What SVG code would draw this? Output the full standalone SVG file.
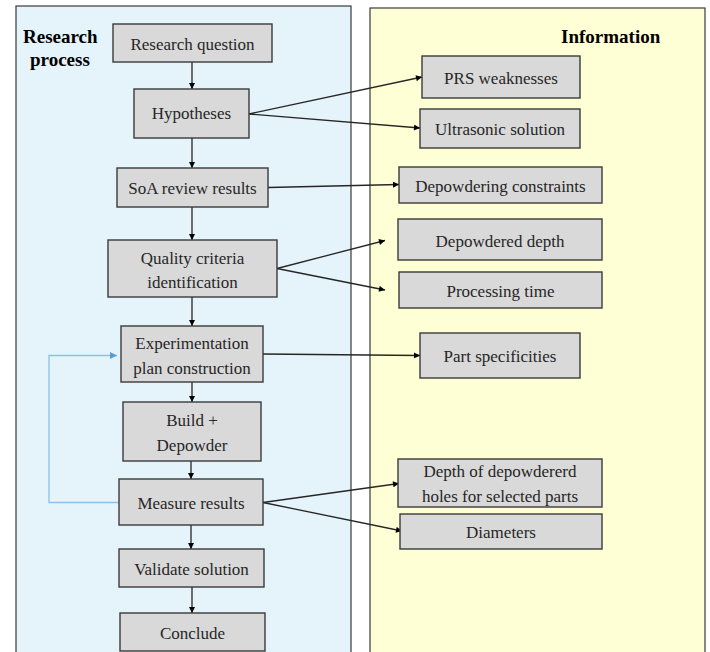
<svg xmlns="http://www.w3.org/2000/svg" width="710" height="652" viewBox="0 0 710 652" font-family="Liberation Serif, DejaVu Serif, serif">
<defs>
<style>
.panel{stroke:#3a3a3a;stroke-width:1.2}
.box{fill:#d9d9d9;stroke:#3a3a3a;stroke-width:1.4}
.t{font-size:17px;fill:#262626;text-anchor:middle}
.h{font-size:19px;font-weight:bold;fill:#000}
.c{fill:none;stroke:#262626;stroke-width:1.3}
.fb{fill:none;stroke:#8fbfea;stroke-width:1.3}
</style>
<marker id="ah" viewBox="0 0 10 10" refX="10" refY="5" markerWidth="7" markerHeight="6" markerUnits="userSpaceOnUse" orient="auto">
<path d="M0,0 L10,5 L0,10 z" fill="#000"/>
</marker>
<marker id="ahb" viewBox="0 0 10 10" refX="10" refY="5" markerWidth="8" markerHeight="7" markerUnits="userSpaceOnUse" orient="auto">
<path d="M0,0 L10,5 L0,10 z" fill="#5b9bd5"/>
</marker>
</defs>
<rect width="710" height="652" fill="#fff"/>
<g id="panel-research">
<rect class="panel" x="16" y="6" width="335" height="680" fill="#e5f4fa"/>
<text class="h" x="23" y="43" font-family="Liberation Serif, serif">Research</text>
<text class="h" x="30" y="66" font-family="Liberation Serif, serif">process</text>
</g>
<g id="panel-information">
<rect class="panel" x="370" y="8" width="335" height="680" fill="#ffffd5"/>
<text class="h" x="561" y="43" font-family="Liberation Serif, serif">Information</text>
</g>
<g id="connectors">
<path class="c" d="M192,62 V89" marker-end="url(#ah)"/>
<path class="c" d="M192,138 V168" marker-end="url(#ah)"/>
<path class="c" d="M192,207 V240" marker-end="url(#ah)"/>
<path class="c" d="M192,297 V326" marker-end="url(#ah)"/>
<path class="c" d="M192,382 V402" marker-end="url(#ah)"/>
<path class="c" d="M191,461 V479" marker-end="url(#ah)"/>
<path class="c" d="M191,525 V549" marker-end="url(#ah)"/>
<path class="c" d="M192,587 V613" marker-end="url(#ah)"/>
<path class="c" d="M249,114 L422,77" marker-end="url(#ah)"/>
<path class="c" d="M249,114 L420,128" marker-end="url(#ah)"/>
<path class="c" d="M268,187.5 L399,184.5" marker-end="url(#ah)"/>
<path class="c" d="M277,268.5 L385,240.5" marker-end="url(#ah)"/>
<path class="c" d="M277,268.5 L385,290" marker-end="url(#ah)"/>
<path class="c" d="M263,354 L420,355.5" marker-end="url(#ah)"/>
<path class="c" d="M263,502.5 L399,483.5" marker-end="url(#ah)"/>
<path class="c" d="M263,502.5 L402,531" marker-end="url(#ah)"/>
<path class="fb" d="M119,502.5 H49 V355.5 H117" marker-end="url(#ahb)"/>
</g>
<g id="n-research-question"><rect class="box" x="113" y="24" width="159" height="38"/><text class="t" x="192.5" y="50">Research question</text></g>
<g id="n-hypotheses"><rect class="box" x="134" y="89" width="115" height="49"/><text class="t" x="191.5" y="119">Hypotheses</text></g>
<g id="n-soa"><rect class="box" x="117" y="168" width="151" height="39"/><text class="t" x="192.5" y="193.5">SoA review results</text></g>
<g id="n-quality"><rect class="box" x="108" y="240" width="169" height="57"/><text class="t" x="192.5" y="263.5">Quality criteria</text><text class="t" x="192.5" y="288">identification</text></g>
<g id="n-experimentation"><rect class="box" x="121" y="326" width="142" height="56"/><text class="t" x="192" y="348.5">Experimentation</text><text class="t" x="192" y="373.5">plan construction</text></g>
<g id="n-build"><rect class="box" x="123" y="402" width="138" height="59"/><text class="t" x="192" y="425.5">Build +</text><text class="t" x="192" y="451">Depowder</text></g>
<g id="n-measure"><rect class="box" x="119" y="479" width="144" height="46"/><text class="t" x="191" y="509">Measure results</text></g>
<g id="n-validate"><rect class="box" x="119" y="549" width="145" height="38"/><text class="t" x="191.5" y="575">Validate solution</text></g>
<g id="n-conclude"><rect class="box" x="120" y="613" width="145" height="38"/><text class="t" x="192.5" y="638.5">Conclude</text></g>
<g id="n-prs"><rect class="box" x="422" y="56" width="158" height="42"/><text class="t" x="501" y="84">PRS weaknesses</text></g>
<g id="n-ultrasonic"><rect class="box" x="420" y="109" width="160" height="39"/><text class="t" x="500" y="135">Ultrasonic solution</text></g>
<g id="n-depowdering"><rect class="box" x="399" y="167" width="203" height="36"/><text class="t" x="500.5" y="191.5">Depowdering constraints</text></g>
<g id="n-depth"><rect class="box" x="398" y="219" width="204" height="41"/><text class="t" x="500" y="246.5">Depowdered depth</text></g>
<g id="n-processing"><rect class="box" x="399" y="272" width="203" height="36"/><text class="t" x="500.5" y="296.5">Processing time</text></g>
<g id="n-part"><rect class="box" x="420" y="333" width="160" height="45"/><text class="t" x="500" y="361.5">Part specificities</text></g>
<g id="n-depth-holes"><rect class="box" x="398" y="459" width="204" height="48"/><text class="t" x="500" y="476.5">Depth of depowdererd</text><text class="t" x="500" y="501.5">holes for selected parts</text></g>
<g id="n-diameters"><rect class="box" x="400" y="514" width="202" height="35"/><text class="t" x="501" y="537.5">Diameters</text></g>
</svg>
